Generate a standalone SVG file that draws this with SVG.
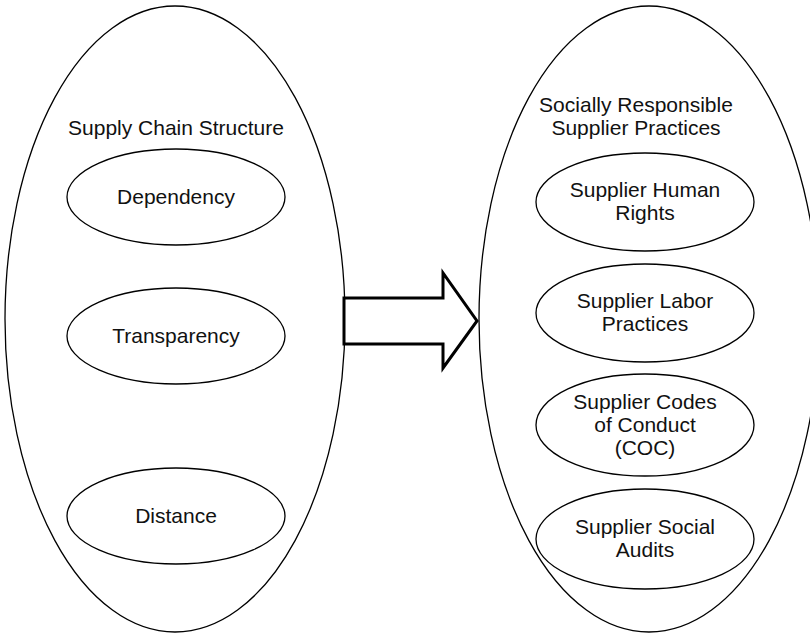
<svg xmlns="http://www.w3.org/2000/svg" width="810" height="633" viewBox="0 0 810 633">
<style>
.big{fill:none;stroke:#000;stroke-width:1.3}
.in{fill:#fff;stroke:#000;stroke-width:1.3}
text{font-family:"Liberation Sans",Arial,sans-serif;font-size:21px;fill:#111;text-anchor:middle}
.arrow{fill:#fff;stroke:#000;stroke-width:3;stroke-linejoin:miter}
</style>
<rect width="810" height="633" fill="#fff"/>
<g id="left-group">
<ellipse class="big" cx="175" cy="319" rx="170" ry="313"/>
<text x="176" y="135">Supply Chain Structure</text>
</g>
<g id="dependency">
<ellipse class="in" cx="176" cy="197" rx="109" ry="48"/>
<text x="176" y="204">Dependency</text>
</g>
<g id="transparency">
<ellipse class="in" cx="176" cy="336" rx="109" ry="48"/>
<text x="176" y="343">Transparency</text>
</g>
<g id="distance">
<ellipse class="in" cx="176" cy="516" rx="109" ry="48"/>
<text x="176" y="523">Distance</text>
</g>
<g id="right-group">
<ellipse class="big" cx="649" cy="319" rx="170" ry="313"/>
<text x="636" y="112">Socially Responsible</text>
<text x="636" y="135">Supplier Practices</text>
</g>
<g id="human-rights">
<ellipse class="in" cx="645" cy="202" rx="109" ry="49"/>
<text x="645" y="197">Supplier Human</text>
<text x="645" y="220">Rights</text>
</g>
<g id="labor">
<ellipse class="in" cx="645" cy="313" rx="109" ry="49"/>
<text x="645" y="308">Supplier Labor</text>
<text x="645" y="331">Practices</text>
</g>
<g id="coc">
<ellipse class="in" cx="645" cy="425" rx="109" ry="51"/>
<text x="645" y="409">Supplier Codes</text>
<text x="645" y="432">of Conduct</text>
<text x="645" y="455">(COC)</text>
</g>
<g id="audits">
<ellipse class="in" cx="645" cy="539" rx="109" ry="50"/>
<text x="645" y="534">Supplier Social</text>
<text x="645" y="557">Audits</text>
</g>
<g id="connectors">
<polygon class="arrow" points="344,298 443,298 443,273 477,321 443,368 443,344 344,344"/>
</g>
</svg>
